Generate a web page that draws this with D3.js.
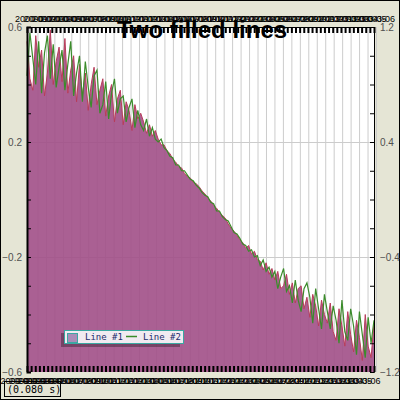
<!DOCTYPE html>
<meta charset="utf-8">
<style>
body, html {
  margin: 0;
  padding: 0;
}
svg {
  display: block;
}
.ylab {
  font: 10px "Liberation Sans", Arial, sans-serif;
  fill: #505050;
}
.xlab {
  font: 9px "Liberation Sans", Arial, sans-serif;
  fill: #000;
}
</style>
<body>
<script src="https://d3js.org/d3.v7.min.js"></script>
<script>

var width = 400,
    height = 400,
    plot = {left: 27, right: 374, top: 27, bottom: 372}

// series values (left axis units)
var line1 = [
  0.55, 0.42, 0.38, 0.57, 0.46, 0.52, 0.36, 0.44, 0.59, 0.40, 0.48, 0.53,
  0.41, 0.56, 0.37, 0.45, 0.50, 0.34, 0.47,
  0.36, 0.44, 0.31, 0.40, 0.46, 0.33, 0.38,
  0.42, 0.29, 0.36, 0.40, 0.27, 0.35, 0.38,
  0.26, 0.34, 0.31, 0.24, 0.33, 0.28, 0.30,
  0.27, 0.23, 0.26, 0.22, 0.24,
  0.21, 0.19, 0.19, 0.17, 0.16,
  0.14, 0.13, 0.115, 0.11, 0.09,
  0.08, 0.075, 0.06, 0.055, 0.045,
  0.03, 0.02, 0.005, -0.005, -0.02,
  -0.03, -0.045, -0.055, -0.065, -0.085,
  -0.10, -0.11, -0.125, -0.14, -0.15,
  -0.17, -0.16, -0.19, -0.18, -0.21,
  -0.215, -0.245, -0.22, -0.26, -0.24,
  -0.28, -0.25, -0.31, -0.30, -0.26,
  -0.33, -0.29, -0.36, -0.31, -0.30, -0.38, -0.34,
  -0.41, -0.33, -0.37, -0.44, -0.35, -0.40, -0.43,
  -0.36, -0.46, -0.49, -0.38, -0.44, -0.51, -0.39, -0.47,
  -0.53, -0.42, -0.48, -0.56, -0.40, -0.51, -0.55, -0.43
]

var line2 = [
  0.43, 0.58, 0.49, 0.40, 0.55, 0.37, 0.51, 0.57, 0.42, 0.54, 0.39, 0.46,
  0.52, 0.38, 0.47, 0.55, 0.36, 0.44, 0.50,
  0.34, 0.48, 0.39, 0.32, 0.43, 0.45, 0.30,
  0.33, 0.41, 0.28, 0.37, 0.42, 0.30, 0.35,
  0.36, 0.27, 0.32, 0.35, 0.25, 0.31, 0.26,
  0.24, 0.28, 0.22, 0.25, 0.21,
  0.20, 0.21, 0.18, 0.17, 0.15,
  0.145, 0.12, 0.12, 0.10, 0.10,
  0.085, 0.07, 0.065, 0.05, 0.04,
  0.025, 0.015, 0.01, -0.01, -0.015,
  -0.04, -0.04, -0.06, -0.07, -0.075,
  -0.095, -0.115, -0.12, -0.135, -0.155,
  -0.16, -0.18, -0.175, -0.20, -0.195,
  -0.23, -0.21, -0.25, -0.235, -0.27,
  -0.25, -0.31, -0.27, -0.24, -0.32,
  -0.30, -0.36, -0.28, -0.35, -0.39, -0.31, -0.29,
  -0.34, -0.43, -0.31, -0.38, -0.45, -0.33, -0.39,
  -0.45, -0.37, -0.42, -0.50, -0.35, -0.46, -0.49, -0.38,
  -0.44, -0.54, -0.39, -0.47, -0.55, -0.41, -0.50, -0.42
]

var seriesNames = ["Line #1", "Line #2"]
var yTicksLeft = [0.6, 0.2, -0.2, -0.6]
var yTicksRight = [1.2, 0.4, -0.4, -1.2]
var xLabels = [
  "2000-01", "2000-02", "2000-03", "2000-04", "2000-05", "2000-06", "2000-07",
  "2000-08", "2000-09", "2000-10", "2000-11", "2000-12", "2001-01", "2001-02",
  "2001-03", "2001-04", "2001-05", "2001-06", "2001-07", "2001-08", "2001-09",
  "2001-10", "2001-11", "2001-12", "2002-01", "2002-02", "2002-03", "2002-04",
  "2002-05", "2002-06", "2002-07", "2002-08", "2002-09", "2002-10", "2002-11",
  "2002-12", "2003-01", "2003-02", "2003-03", "2003-04", "2003-05", "2003-06"
]
var elapsed = "(0.080 s)"

var svg = d3.select("body").append("svg")
    .attr("width", width)
    .attr("height", height)

svg.append("rect")
    .attr("x", 0.5).attr("y", 0.5)
    .attr("width", width - 1).attr("height", height - 1)
    .attr("fill", "#e5e5d5")
    .attr("stroke", "#000")

var x = d3.scaleLinear()
    .domain([0, line1.length - 1])
    .range([plot.left, plot.right])

var xTick = d3.scaleLinear()
    .domain([0, 84])
    .range([plot.left, plot.right])

var xLab = d3.scalePoint()
    .domain(xLabels)
    .range([plot.left, plot.right])

var y = d3.scaleLinear()
    .domain([-0.6, 0.6])
    .range([plot.bottom, plot.top])

var yR = d3.scaleLinear()
    .domain([-1.2, 1.2])
    .range([plot.bottom, plot.top])

svg.append("rect")
    .attr("x", plot.left).attr("y", plot.top)
    .attr("width", plot.right - plot.left)
    .attr("height", plot.bottom - plot.top)
    .attr("fill", "#fff")

// vertical grid
svg.append("g")
    .attr("transform", "translate(0," + plot.bottom + ")")
    .call(d3.axisBottom(xLab).tickSize(-(plot.bottom - plot.top)).tickFormat(""))
    .call(function (g) {
      g.select(".domain").remove()
      g.selectAll("line").attr("stroke", "#cccccc").attr("transform", "translate(2,0)")
    })

// horizontal grid
svg.append("g")
    .attr("transform", "translate(" + plot.left + ",0)")
    .call(d3.axisLeft(y).tickValues([0.2, -0.2]).tickSize(-(plot.right - plot.left)).tickFormat(""))
    .call(function (g) {
      g.select(".domain").remove()
      g.selectAll("line").attr("stroke", "#cccccc")
    })

var area = d3.area()
    .x(function (d, i) { return x(i) })
    .y0(plot.bottom)
    .y1(function (d) { return y(d) })

var line = d3.line()
    .x(function (d, i) { return x(i) })
    .y(function (d) { return y(d) })

svg.append("path")
    .datum(line1)
    .attr("d", area)
    .attr("fill", "#a14f87")
    .attr("fill-opacity", 0.9)

svg.append("path")
    .datum(line1)
    .attr("d", line)
    .attr("fill", "none")
    .attr("stroke", "#b83c5a")
    .attr("stroke-width", 1)

svg.append("path")
    .datum(line2)
    .attr("d", line)
    .attr("fill", "none")
    .attr("stroke", "#3b8c2b")
    .attr("stroke-width", 1.2)

// x ticks, top and bottom, pointing inward
svg.append("g")
    .attr("transform", "translate(0," + plot.top + ")")
    .call(d3.axisTop(xTick).tickValues(d3.range(85)).tickSize(-6).tickFormat(""))
    .call(function (g) {
      g.selectAll("line").attr("stroke", "#000").attr("stroke-width", 2)
    })

svg.append("g")
    .attr("transform", "translate(0," + plot.bottom + ")")
    .call(d3.axisBottom(xTick).tickValues(d3.range(85)).tickSize(-6).tickFormat(""))
    .call(function (g) {
      g.select(".domain").remove()
      g.selectAll("line").attr("stroke", "#000").attr("stroke-width", 2)
    })

// crowded x labels
svg.append("g")
    .attr("transform", "translate(0," + plot.top + ")")
    .call(d3.axisTop(xLab).tickSize(0).tickPadding(5))
    .call(function (g) {
      g.select(".domain").remove()
      g.selectAll("text").attr("class", "xlab").attr("dx", 4)
    })

svg.append("g")
    .attr("transform", "translate(0," + plot.bottom + ")")
    .call(d3.axisBottom(xLab).tickSize(0).tickPadding(6))
    .call(function (g) {
      g.select(".domain").remove()
      g.selectAll("text").attr("class", "xlab").attr("text-anchor", "end").attr("dx", 6)
    })

// left axis
svg.append("g")
    .attr("transform", "translate(" + plot.left + ",0)")
    .call(d3.axisRight(y).tickValues(d3.range(-6, 7).map(function (d) { return d / 10 })).tickSize(4).tickFormat(""))
    .call(function (g) {
      g.select(".domain").attr("stroke", "#000").attr("stroke-width", 2)
      g.selectAll("line").attr("stroke", "#000")
    })

svg.append("g")
    .attr("transform", "translate(" + plot.left + ",0)")
    .call(d3.axisLeft(y).tickValues(yTicksLeft).tickSize(0).tickPadding(5).tickFormat(d3.format(".1f")))
    .call(function (g) {
      g.select(".domain").remove()
      g.selectAll("text").attr("class", "ylab")
    })

// right axis
svg.append("g")
    .attr("transform", "translate(" + plot.right + ",0)")
    .call(d3.axisLeft(yR).tickValues(d3.range(-6, 7).map(function (d) { return d / 5 })).tickSize(4).tickFormat(""))
    .call(function (g) {
      g.select(".domain").attr("stroke", "#000").attr("stroke-width", 1)
      g.selectAll("line").attr("stroke", "#000")
    })

svg.append("g")
    .attr("transform", "translate(" + plot.right + ",0)")
    .call(d3.axisRight(yR).tickValues(yTicksRight).tickSize(0).tickPadding(6).tickFormat(d3.format(".1f")))
    .call(function (g) {
      g.select(".domain").remove()
      g.selectAll("text").attr("class", "ylab")
    })

// title
svg.append("text")
    .attr("x", 202)
    .attr("y", 38)
    .attr("text-anchor", "middle")
    .style("font", "bold 24px 'Liberation Sans', Arial, sans-serif")
    .text("Two filled lines")

// legend
var legend = svg.append("g")
    .attr("transform", "translate(64,330)")

legend.append("rect")
    .attr("x", -3).attr("y", 3)
    .attr("width", 119).attr("height", 14)
    .attr("fill", "#000").attr("fill-opacity", 0.3)

legend.append("rect")
    .attr("x", 0.5).attr("y", 0.5)
    .attr("width", 119).attr("height", 13)
    .attr("fill", "#f1eaf1")
    .attr("stroke", "#3aa8a2")

var item = legend.selectAll(".item")
    .data(seriesNames)
    .enter().append("g")
    .attr("class", "item")
    .attr("transform", function (d, i) { return "translate(" + (i * 58) + ",0)" })

item.filter(function (d, i) { return i === 0 })
    .append("rect")
    .attr("x", 3.5).attr("y", 3.5)
    .attr("width", 10).attr("height", 9)
    .attr("fill", "#a98db8")
    .attr("stroke", "#3aa8a2")

item.filter(function (d, i) { return i === 1 })
    .append("line")
    .attr("x1", 4).attr("x2", 15)
    .attr("y1", 6.5).attr("y2", 6.5)
    .attr("stroke", "#3b8c2b")
    .attr("stroke-width", 1.5)

item.append("text")
    .attr("x", 21)
    .attr("y", 10)
    .style("font", "9px 'DejaVu Sans Mono', monospace")
    .attr("fill", "#1c2b6b")
    .text(function (d) { return d })

// timer box
svg.append("rect")
    .attr("x", 4.5).attr("y", 381.5)
    .attr("width", 56).attr("height", 15)
    .attr("fill", "none")
    .attr("stroke", "#000")

svg.append("text")
    .attr("x", 7)
    .attr("y", 393)
    .style("font", "10px 'DejaVu Sans Mono', monospace")
    .attr("fill", "#000")
    .text(elapsed)

</script>
</body>
